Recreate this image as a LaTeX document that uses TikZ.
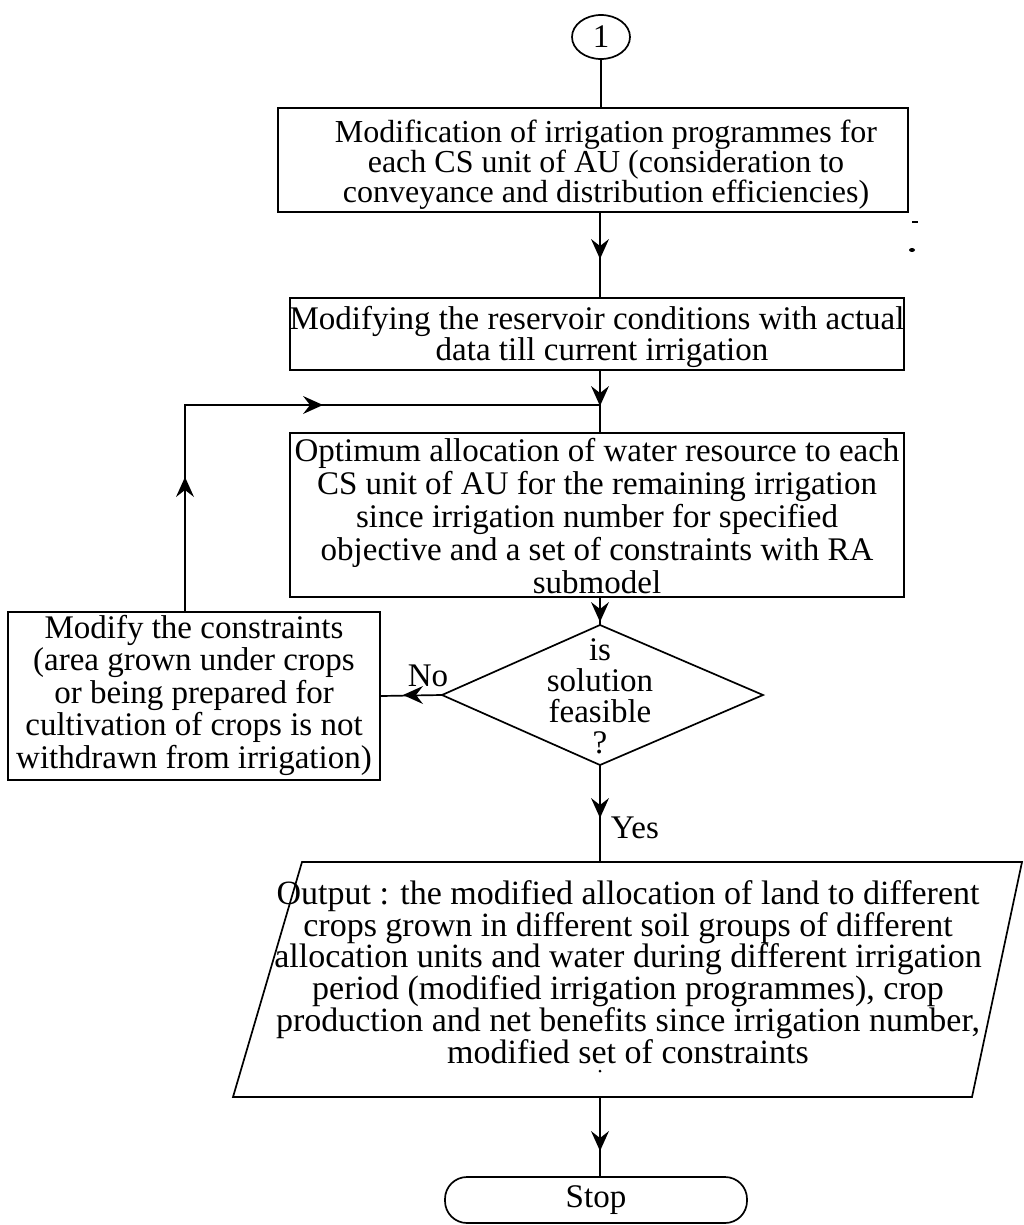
\documentclass[tikz,border=0pt]{standalone}
\usepackage{fontspec}
\setmainfont{Liberation Serif}
\usetikzlibrary{shapes.geometric}

\begin{document}
\begin{tikzpicture}[x=1pt,y=-1pt,line width=1.7pt,
  every node/.style={font=\fontsize{33}{32}\selectfont},
  flowhead/.pic={\fill (1,0) -- (-19,9) -- (-12,0) -- (-19,-9) -- cycle;},
  box/.style={draw,rectangle,inner sep=0pt},
  txt/.style={inner sep=0pt,align=center},
]
% page
\fill[white] (0,0) rectangle (1024,1225);
\useasboundingbox (0,0) rectangle (1024,1225);

% connector symbol
\node[draw,ellipse,minimum width=58pt,minimum height=44pt,inner sep=0pt] (start) at (601,37) {1};

% process boxes
\node[box,minimum width=630pt,minimum height=104pt] (b1) at (593,160) {};
\node[txt,font=\fontsize{32}{30}\selectfont] (t1) at (606,165)
  {Modification of irrigation programmes for\\
   each CS unit of AU (consideration to\\
   conveyance and distribution efficiencies)};
\node[box,minimum width=614pt,minimum height=72pt] (b2) at (597,334) {};
\node[txt,font=\fontsize{33}{31}\selectfont] (t2) at (597,337)
  {Modifying the reservoir conditions with actual\\
   \hspace*{10pt}data till current irrigation};
\node[box,minimum width=614pt,minimum height=164pt] (b3) at (597,515) {};
\node[txt,font=\fontsize{33}{33}\selectfont] (t3) at (597,516)
  {Optimum allocation of water resource to each\\
   CS unit of AU for the remaining irrigation\\
   since irrigation number for specified\\
   objective and a set of constraints with RA\\
   submodel};
\node[box,minimum width=372pt,minimum height=168pt] (b4) at (194,696) {};
\node[txt,font=\fontsize{33}{32.5}\selectfont] (t4) at (194,695)
  {Modify the constraints\\
   (area grown under crops\\
   or being prepared for\\
   cultivation of crops is not\\
   withdrawn from irrigation)};

% decision
\coordinate (dtop) at (600,625);
\coordinate (dright) at (763,695);
\coordinate (dbot) at (600,765);
\coordinate (dleft) at (442,695);
\draw (dtop) -- (dright) -- (dbot) -- (dleft) -- cycle;
\node[txt,font=\fontsize{33}{31}\selectfont] (dtext) at (600,696)
  {is\\solution\\feasible\\?};

% output parallelogram
\coordinate (pTL) at (302,862);
\coordinate (pTR) at (1022,862);
\coordinate (pBR) at (972,1097);
\coordinate (pBL) at (233,1097);
\coordinate (ptop) at (600,862);
\coordinate (pbot) at (600,1097);
\draw (pTL) -- (pTR) -- (pBR) -- (pBL) -- cycle;
\node[txt,font=\fontsize{34}{31.8}\selectfont] (ptext) at (628,972)
  {Output : the modified allocation of land to different\\
   crops grown in different soil groups of different\\
   allocation units and water during different irrigation\\
   period (modified irrigation programmes), crop\\
   production and net benefits since irrigation number,\\
   modified set of constraints};
\fill (600,1071) circle (1.5pt);

% terminal
\node[draw,rounded corners=22pt,minimum width=302pt,minimum height=46pt,inner sep=0pt] (stop) at (596,1200) {Stop};

% loop junction
\coordinate (j) at (600,405);

% arrow tip positions
\coordinate (h1) at (600,258);
\coordinate (h3) at (600,621);
\coordinate (h4) at (404,695);
\coordinate (h5) at (185,478);
\coordinate (h6) at (322,405);
\coordinate (h7) at (600,817);
\coordinate (h8) at (600,1150);

% connectors
\draw (start) -- (b1.north -| start);
\draw (b1.south -| j) -- (b2.north -| j);
\draw (b2.south -| j) -- (b3.north -| j);
\draw (b3.south -| j) -- (dtop);
\draw (dleft) -- (b4.east);
\draw ([xshift=-9pt]b4.north) |- (j);
\draw (dbot) -- (ptop);
\draw (pbot) -- (pbot |- stop.north);

% arrowheads on the connectors
\pic[rotate=-90] at (h1) {flowhead};
\pic[rotate=-90] at (j) {flowhead};
\pic[rotate=-90] at (h3) {flowhead};
\pic[rotate=180] at (h4) {flowhead};
\pic[rotate=90] at (h5) {flowhead};
\pic at (h6) {flowhead};
\pic[rotate=-90] at (h7) {flowhead};
\pic[rotate=-90] at (h8) {flowhead};

% branch labels
\node[txt] (no) at (428,676) {No};
\node[txt,anchor=west] (yes) at (610,828) {Yes};

% specks
\draw[line width=2pt] (912,222) -- (918,222);
\fill (912,250) ellipse (3pt and 2pt);
\end{tikzpicture}
\end{document}
